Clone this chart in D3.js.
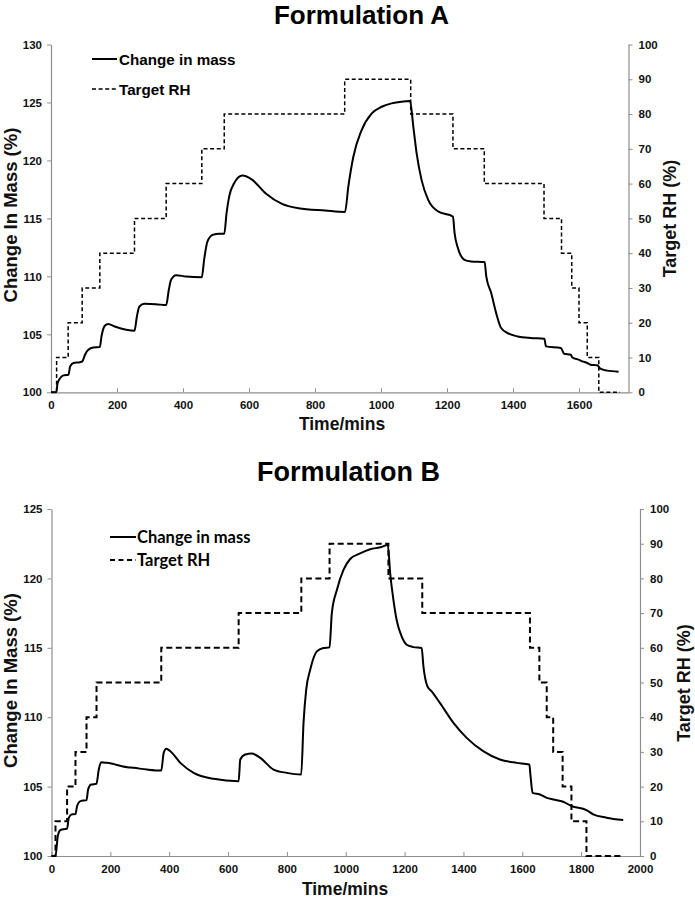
<!DOCTYPE html>
<html>
<head>
<meta charset="utf-8">
<script src="https://cdn.jsdelivr.net/npm/d3@7"></script>
<style>
  html, body { margin: 0; padding: 0; background: #fff; }
  svg { display: block; }
</style>
</head>
<body>
<svg id="chart" width="695" height="900"></svg>
<script>
// ---------------- DATA ----------------
const titles = ["Formulation A", "Formulation B"];
const legendLabels = ["Change in mass", "Target RH"];
const xAxisTitle = "Time/mins";
const yLeftTitle = "Change In Mass (%)";
const yRightTitle = "Target RH (%)";

const rhTicks = [0, 10, 20, 30, 40, 50, 60, 70, 80, 90, 100];

// Formulation A
const timeTicksA = [0, 200, 400, 600, 800, 1000, 1200, 1400, 1600];
const massTicksA = [100, 105, 110, 115, 120, 125, 130];
const massA_t = [0,16,20,28,38,53, 58,68,88,95, 103,113,128,148, 153,163,173,193,228,253,
  260,268,283,318,349, 357,364,379,409,457, 464,474,490,510,525,
  532,540,555,580,610,650,700,750,831,891,
  901,916,941,972,1002,1032,1062,1088,
  1098,1108,1123,1143,1173,1218,
  1223,1233,1253,1273,1314,
  1319,1334,1349,1364,1384,1414,1454,1495,
  1500,1545,1555,1575,1580,1600,1610,1625,1635,1655,1665,1685,1720];
const massA_v = [100,100,100.8,101.23,101.46,101.52, 102.24,102.53,102.6,102.67, 103.24,103.67,103.87,103.9,
  104.82,105.74,105.9,105.68,105.4,105.31, 106.5,107.4,107.63,107.6,107.52,
  108.84,109.7,110.1,109.99,109.93, 111.43,113.0,113.58,113.67,113.67,
  115.45,116.9,118.03,118.69,118.32,117.17,116.25,115.88,115.68,115.56,
  117.74,120.3,122.6,124.06,124.63,124.92,125.07,125.12,
  122.9,120.6,118.3,116.6,115.6,115.16,
  113.73,112.44,111.43,111.29,111.23,
  110,108.56,106.83,105.54,105.11,104.82,104.68,104.62,
  103.96,103.82,103.33,103.24,103.0,102.8,102.67,102.53,102.38,102.33,102.04,101.87,101.78];
const rhA_t = [0,17,52,94.5,148,253,349,457,525,890,1090,1218,1313,1494,1547,1578,1600,1625,1660,1724];
const rhA_v = [0,10,20,30,40,50,60,70,80,90,80,70,60,50,40,30,20,10,0,0];

// Formulation B
const timeTicksB = [0, 200, 400, 600, 800, 1000, 1200, 1400, 1600, 1800, 2000];
const massTicksB = [100, 105, 110, 115, 120, 125];
const massB_t = [0,13.6,21.5,30.5,53, 58.8,70,81.5, 87,98.4,119, 124.5,134.6,152.7,
  160.7,168.6,189,257,279.5,324.7,373, 381.3,390,404,438,483,551,636,
  641.5,658.5,681,709.4,754.7,800,848.6, 856.5,865.6,879.2,901.8,924,944.8,
  952.7,970,992.3,1015,1049,1083,1117,1143,
  1151,1162,1173,1190,1207,1230,1258,
  1264,1277.6,1292,1320,1366,1411,1467,1524,1581,1624,
  1628,1635,1660,1683,1705,1739,1767,1818,1841,1886,1943];
const massB_v = [100,100,101.44,101.87,101.97, 102.76,103.0,103.02, 103.6,103.95,104.03, 104.8,105.15,105.2,
  106.23,106.76,106.71,106.4,106.35,106.23,106.16, 107.43,107.72,107.55,106.71,105.99,105.56,105.39,
  106.95,107.31,107.38,107.07,106.23,105.99,105.87, 109.59,111.98,113.42,114.74,114.98,115.03,
  117.5,119.18,120.61,121.4,121.8,122.1,122.24,122.4,
  120.37,118.46,117.0,115.82,115.22,115.05,114.98,
  113.66,112.22,111.86,111.03,109.59,108.51,107.55,106.95,106.71,106.59,
  105.75,104.55,104.43,104.19,104.07,103.91,103.6,103.31,103.0,102.76,102.59];
const rhB_t = [0,13.6,53,81.5,119,153,373,636,849,945,1145,1260,1626,1658,1683,1705,1737,1767,1818,1938];
const rhB_v = [0,10,20,30,40,50,60,70,80,90,80,70,60,50,40,30,20,10,0,0];

// ---------------- DRAW ----------------
const svg = d3.select("#chart");
const AX = "#8e8e8e";
const TXT = "#111";
const fmt = d3.format("d");

function panel(cfg) {
  const g = svg.append("g");
  const x = d3.scaleLinear().domain(cfg.xDomain).range([cfg.left, cfg.right]);
  const yM = d3.scaleLinear().domain(cfg.mDomain).range([cfg.bottom, cfg.top]);
  const yR = d3.scaleLinear().domain([0, 100]).range([cfg.bottom, cfg.top]);

  // title
  g.append("text").attr("x", cfg.titleX).attr("y", cfg.titleY)
    .attr("text-anchor", "middle").attr("font-family", "Liberation Sans, Arial, sans-serif")
    .attr("font-weight", "bold").attr("font-size", cfg.titleSize).attr("fill", "#000").text(cfg.title);

  // axes
  const xAxis = d3.axisBottom(x).tickValues(cfg.xTicks).tickFormat(fmt).tickSizeInner(-4).tickSizeOuter(0).tickPadding(9);
  const gx = g.append("g").attr("transform", `translate(0,${cfg.bottom})`).call(xAxis);
  const yAxisL = d3.axisLeft(yM).tickValues(cfg.mTicks).tickFormat(fmt).tickSizeInner(4).tickSizeOuter(0).tickPadding(5);
  const gy = g.append("g").attr("transform", `translate(${cfg.left},0)`).call(yAxisL);
  const yAxisR = d3.axisRight(yR).tickValues(rhTicks).tickFormat(fmt).tickSizeInner(4).tickSizeOuter(0).tickPadding(cfg.rPad);
  const gr = g.append("g").attr("transform", `translate(${cfg.right},0)`).call(yAxisR);
  [gx, gy, gr].forEach(a => {
    a.select(".domain").attr("stroke", AX).attr("stroke-width", 1.2);
    a.selectAll(".tick line").attr("stroke", AX).attr("stroke-width", 1);
    a.selectAll(".tick text").attr("font-family", "Liberation Sans, Arial, sans-serif")
      .attr("font-weight", "bold").attr("font-size", 11.5).attr("fill", TXT);
  });
  gx.selectAll(".tick text").attr("dy", "0.71em");

  // RH step line
  const rhData = cfg.rhT.map((t, i) => [t, cfg.rhV[i]]);
  g.append("path").datum(rhData)
    .attr("d", d3.line().x(d => x(d[0])).y(d => yR(d[1])).curve(d3.curveStepAfter))
    .attr("fill", "none").attr("stroke", "#000").attr("stroke-width", cfg.dashW)
    .attr("stroke-dasharray", cfg.dash);

  // mass line
  const mData = cfg.mT.map((t, i) => [t, cfg.mV[i]]);
  g.append("path").datum(mData)
    .attr("d", d3.line().x(d => x(d[0])).y(d => yM(d[1])).curve(d3.curveMonotoneX))
    .attr("fill", "none").attr("stroke", "#000").attr("stroke-width", 2)
    .attr("stroke-linejoin", "round");

  // axis titles
  const tf = "Liberation Sans, Arial, sans-serif";
  g.append("text").attr("x", cfg.xTitleX).attr("y", cfg.xTitleY).attr("text-anchor", "middle")
    .attr("font-family", tf).attr("font-weight", "bold").attr("font-size", cfg.axisTitleSize)
    .attr("fill", TXT).text(xAxisTitle);
  g.append("text").attr("transform", `translate(${cfg.yLX},${cfg.yLY}) rotate(-90)`)
    .attr("text-anchor", "middle").attr("font-family", tf).attr("font-weight", "bold")
    .attr("font-size", 18.5).attr("fill", TXT).text(yLeftTitle);
  g.append("text").attr("transform", `translate(${cfg.yRX},${cfg.yRY}) rotate(-90)`)
    .attr("text-anchor", "middle").attr("font-family", tf).attr("font-weight", "bold")
    .attr("font-size", 18).attr("fill", TXT).text(yRightTitle);

  // legend
  const lg = g.append("g");
  cfg.legY.forEach((ly, i) => {
    lg.append("line").attr("x1", cfg.legX1).attr("x2", cfg.legX2).attr("y1", ly).attr("y2", ly)
      .attr("stroke", "#000").attr("stroke-width", i === 0 ? 2 : cfg.dashW)
      .attr("stroke-dasharray", i === 0 ? null : cfg.legDash);
    lg.append("text").attr("x", cfg.legTX).attr("y", ly).attr("dominant-baseline", "central")
      .attr("font-family", cfg.legFont).attr("font-weight", "bold").attr("font-size", cfg.legSize)
      .attr("fill", "#000").text(legendLabels[i]);
  });
}

panel({
  title: titles[0], titleX: 361.5, titleY: 23.5, titleSize: 26,
  xDomain: [0, 1750], mDomain: [100, 130], left: 51, right: 628.5, top: 44.5, bottom: 392.3,
  xTicks: timeTicksA, mTicks: massTicksA, rPad: 6,
  mT: massA_t, mV: massA_v, rhT: rhA_t, rhV: rhA_v,
  dash: "4,2.6", dashW: 1.5, legDash: "4,2.6",
  xTitleX: 342, xTitleY: 430, axisTitleSize: 17.5,
  yLX: 17, yLY: 215, yRX: 676, yRY: 218.5,
  legX1: 92, legX2: 117, legTX: 119, legY: [59, 89], legFont: "Liberation Sans, Arial, sans-serif", legSize: 15.2
});

panel({
  title: titles[1], titleX: 348.5, titleY: 480.5, titleSize: 27,
  xDomain: [0, 2000], mDomain: [100, 125], left: 51.5, right: 640, top: 509, bottom: 856,
  xTicks: timeTicksB, mTicks: massTicksB, rPad: 6,
  mT: massB_t, mV: massB_v, rhT: rhB_t, rhV: rhB_v,
  dash: "6,3.5", dashW: 2, legDash: "5,3.5",
  xTitleX: 345, xTitleY: 895, axisTitleSize: 17.5,
  yLX: 17, yLY: 680.5, yRX: 690, yRY: 683,
  legX1: 110, legX2: 136, legTX: 137, legY: [537, 560], legFont: "Lato, sans-serif", legSize: 16.5
});
</script>
</body>
</html>
